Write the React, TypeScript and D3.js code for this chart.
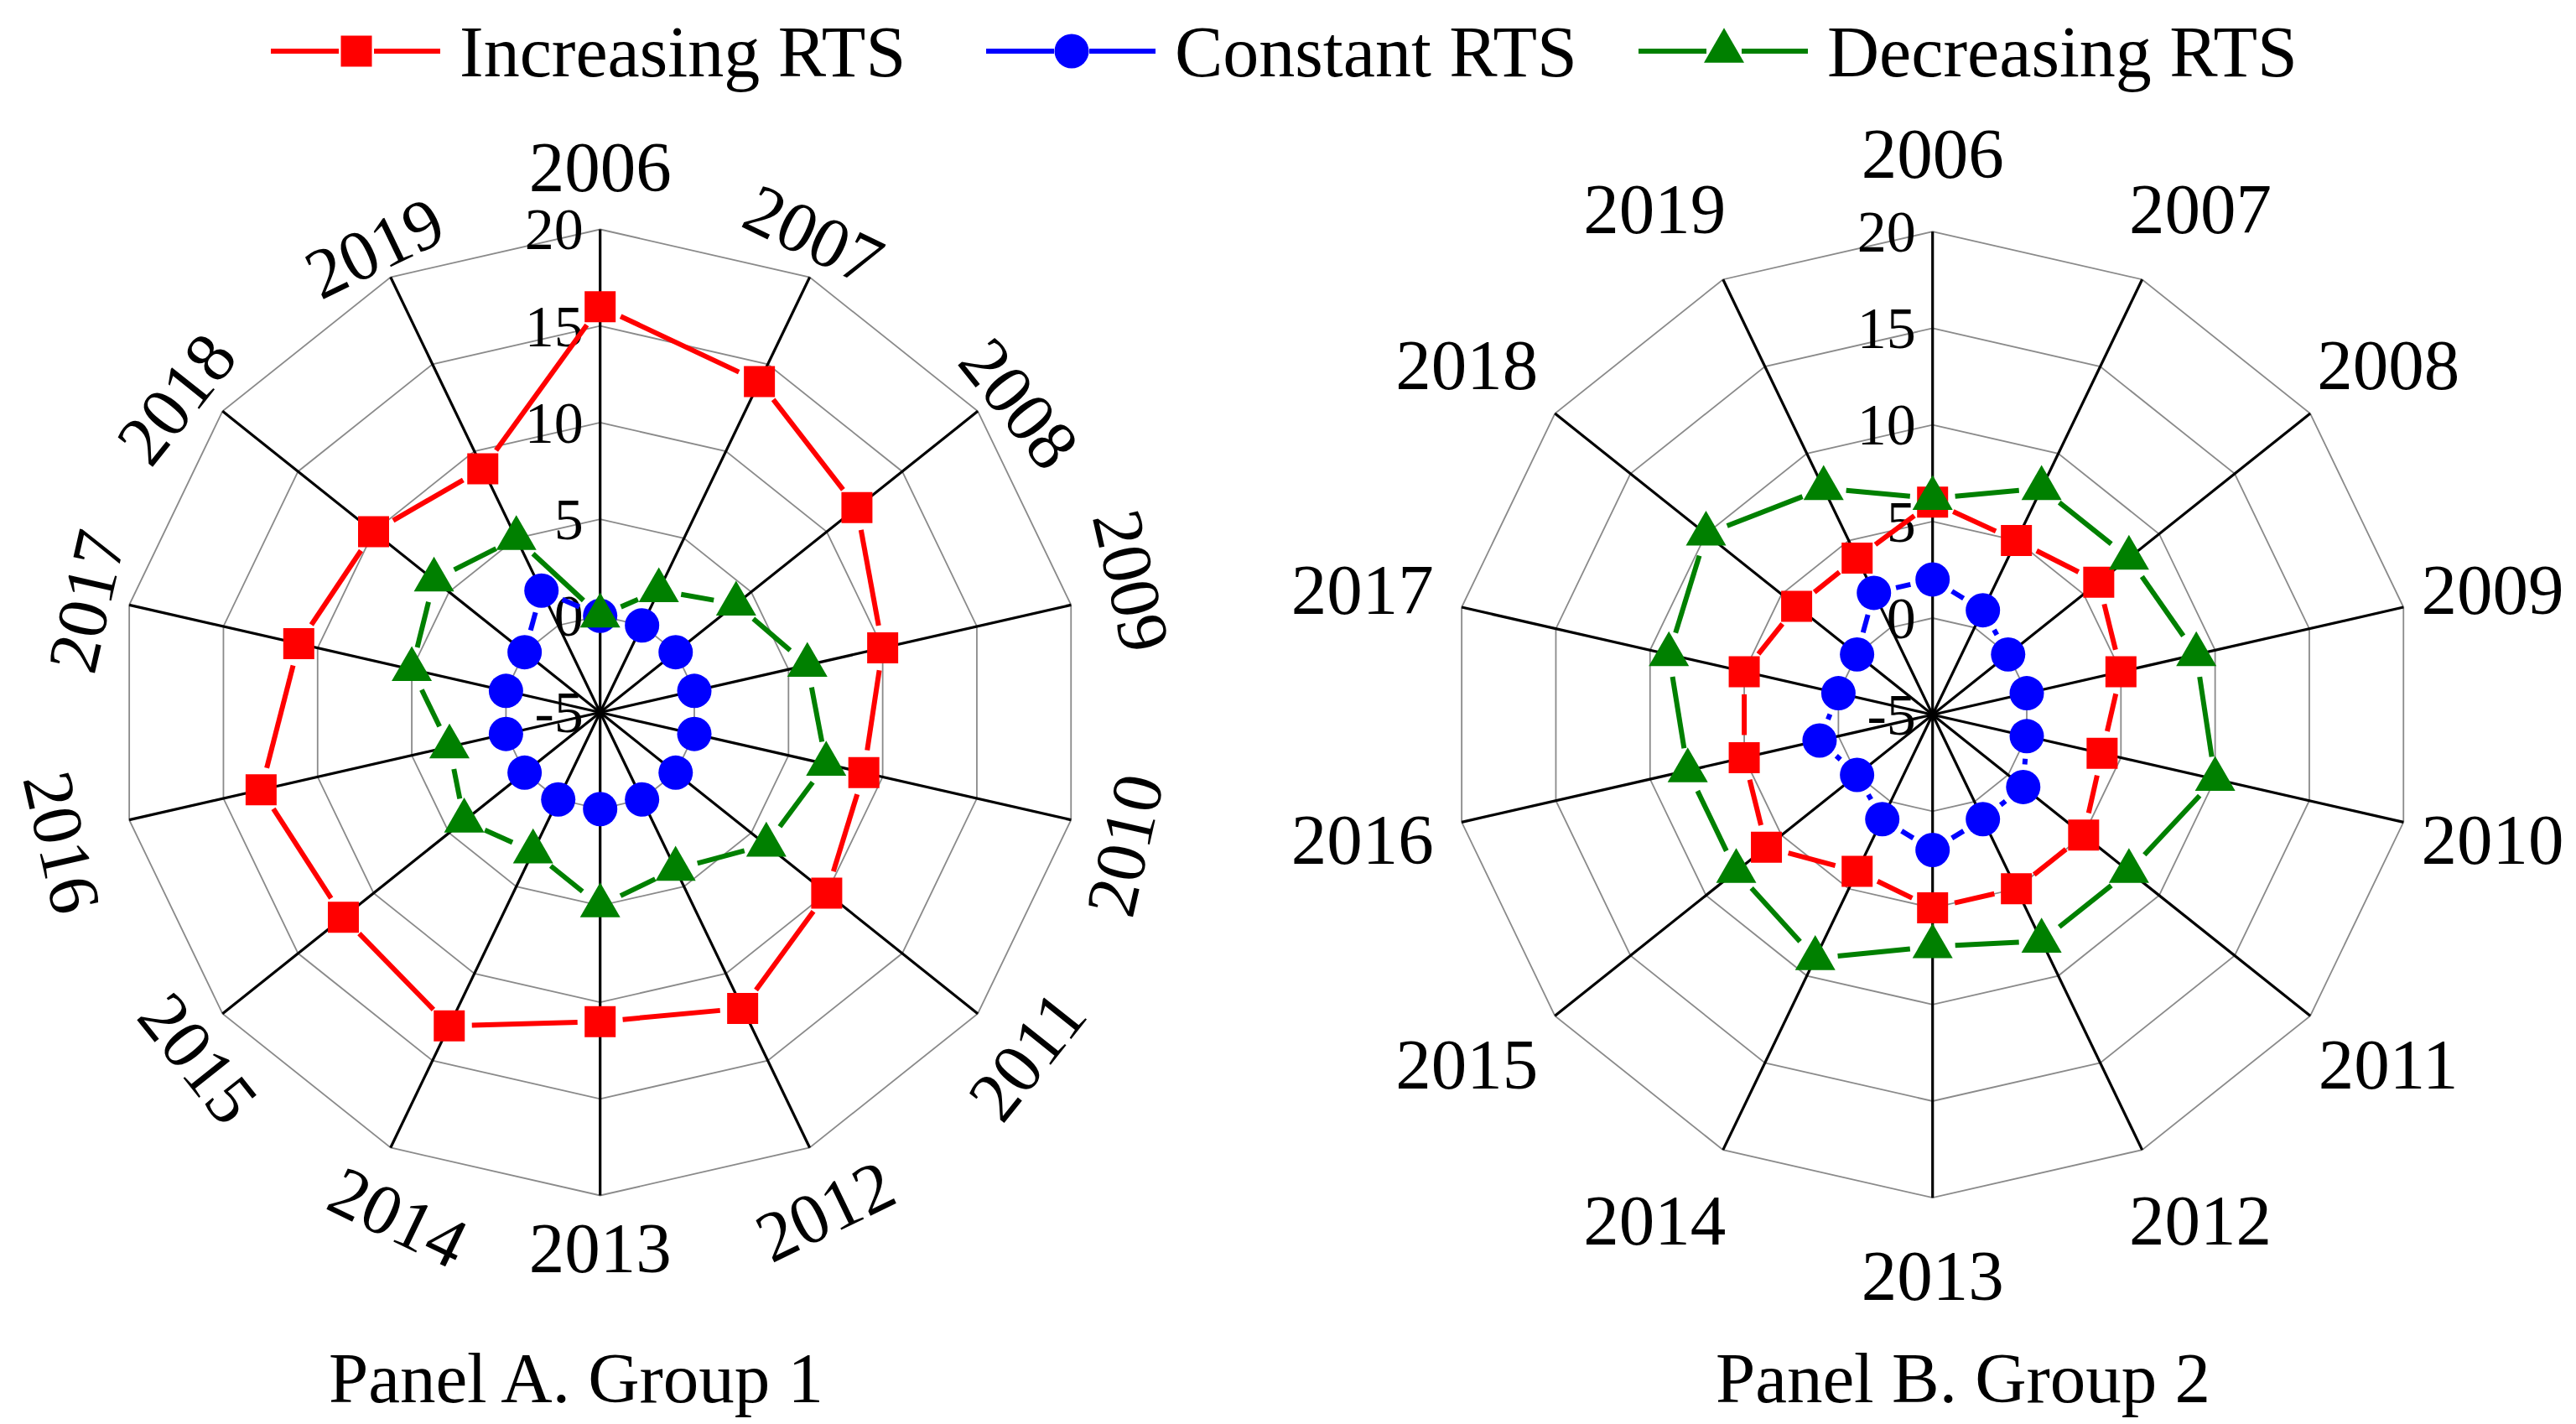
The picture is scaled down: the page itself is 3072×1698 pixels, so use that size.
import * as d3 from "d3";

const years = ["2006", "2007", "2008", "2009", "2010", "2011", "2012", "2013", "2014", "2015", "2016", "2017", "2018", "2019"];
const radialTicks = [-5, 0, 5, 10, 15, 20];

// Panel A. Group 1
const g1Increasing = [16, 14, 12, 10, 9, 10, 12, 11, 13, 12, 13, 11, 10, 9];
const g1Constant = [0, 0, 0, 0, 0, 0, 0, 0, 0, 0, 0, 0, 0, 2];
const g1Decreasing = [0, 2, 4, 6, 7, 6, 4, 5, 3, 4, 3, 5, 6, 5];

// Panel B. Group 2
const g2Increasing = [6, 5, 6, 5, 4, 5, 5, 5, 4, 6, 5, 5, 4, 4];
const g2Constant = [2, 1, 0, 0, 0, 1, 1, 2, 1, 0, 1, 0, 0, 2];
const g2Decreasing = [6.2, 8, 8, 9, 10, 8, 8, 7, 9, 8, 8, 9, 10, 8];

const seriesNames = ["Increasing RTS", "Constant RTS", "Decreasing RTS"];
const seriesColors = ["#ff0000", "#0000ff", "#008000"];
const symbolTypes = [d3.symbolSquare, d3.symbolCircle, d3.symbolTriangle];
const symbolSizes = [1369, 1320, 998];

// where the rotated year labels of panel A sit (angle in degrees, distance from centre)
const labelAngleA = [0, 24.1, 53.6, 76.1, 104.2, 128.8, 155.7, 180, 201.8, 229.3, 256.4, 282.2, 306.5, 334.1];
const labelRadiusA = [650, 624, 621, 653, 645, 653, 652, 639, 648, 632, 660, 627, 629, 616];

const W = 3072;
const H = 1698;
const FONT = "'Liberation Serif', 'Times New Roman', serif";
const TRIM = 27;

const rScale = d3.scaleLinear().domain([-5, 20]).range([0, 576]);
const aScale = d3.scaleLinear().domain([0, years.length]).range([0, 2 * Math.PI]);

function polar(cx: number, cy: number, i: number, r: number): [number, number] {
  const a = aScale(i);
  return [cx + r * Math.sin(a), cy - r * Math.cos(a)];
}

function markerPath(k: number) {
  return d3.symbol().type(symbolTypes[k]).size(symbolSizes[k])() ?? "";
}

function Series({ cx, cy, values, k }: { cx: number; cy: number; values: number[]; k: number }) {
  const pts = values.map((v, i) => polar(cx, cy, i, rScale(v)));
  const segs = pts.map((p, i) => {
    const q = pts[(i + 1) % pts.length];
    const dx = q[0] - p[0];
    const dy = q[1] - p[1];
    const L = Math.hypot(dx, dy);
    if (L <= 2 * TRIM) return null;
    const ux = dx / L;
    const uy = dy / L;
    return (
      <line
        key={i}
        x1={p[0] + ux * TRIM}
        y1={p[1] + uy * TRIM}
        x2={q[0] - ux * TRIM}
        y2={q[1] - uy * TRIM}
        stroke={seriesColors[k]}
        strokeWidth={6}
      />
    );
  });
  const d = markerPath(k);
  return (
    <g>
      {segs}
      {pts.map((p, i) => (
        <path key={i} d={d} transform={`translate(${p[0]},${p[1]})`} fill={seriesColors[k]} />
      ))}
    </g>
  );
}

function Radar({
  cx,
  cy,
  data,
  rotated,
  title,
  titleX,
}: {
  cx: number;
  cy: number;
  data: number[][];
  rotated: boolean;
  title: string;
  titleX: number;
}) {
  const ringPath = (v: number) =>
    d3.line()(years.map((_, i) => polar(cx, cy, i, rScale(v)))) + "Z";
  const rMax = rScale(20);
  return (
    <g>
      {radialTicks.filter((t) => t > -5).map((t) => (
        <path key={t} d={ringPath(t)} fill="none" stroke="#8a8a8a" strokeWidth={1.8} />
      ))}
      {years.map((_, i) => {
        const [x, y] = polar(cx, cy, i, rMax);
        return <line key={i} x1={cx} y1={cy} x2={x} y2={y} stroke="#000" strokeWidth={3.2} />;
      })}
      {radialTicks.map((t) => (
        <text
          key={t}
          x={cx - 20}
          y={cy - rScale(t)}
          dy="0.34em"
          textAnchor="end"
          fontSize={70}
          fontFamily={FONT}
          fill="#000"
        >
          {t}
        </text>
      ))}
      {data.map((vals, k) => (
        <Series key={k} cx={cx} cy={cy} values={vals} k={k} />
      ))}
      {years.map((yr, i) => {
        const deg = (aScale(i) * 180) / Math.PI;
        if (rotated) {
          const a = (labelAngleA[i] * Math.PI) / 180;
          const x = cx + labelRadiusA[i] * Math.sin(a);
          const y = cy - labelRadiusA[i] * Math.cos(a);
          const rot = deg > 90 && deg < 270 ? deg - 180 : deg;
          return (
            <text
              key={yr}
              transform={`translate(${x},${y}) rotate(${rot})`}
              dy="0.34em"
              textAnchor="middle"
              fontSize={85}
              fontFamily={FONT}
            >
              {yr}
            </text>
          );
        }
        const a = aScale(i);
        const s = Math.sin(a);
        const push = Math.abs(s) < 1e-6 ? 0 : s > 0 ? 40 : -52;
        const x = cx + 644 * s + push;
        const y = cy - 669 * Math.cos(a);
        return (
          <text key={yr} x={x} y={y} dy="0.34em" textAnchor="middle" fontSize={85} fontFamily={FONT}>
            {yr}
          </text>
        );
      })}
      <text x={titleX} y={1672} textAnchor="middle" fontSize={85} fontFamily={FONT}>
        {title}
      </text>
    </g>
  );
}

function Legend() {
  const xs = [425, 1278, 2056];
  const y = 61;
  return (
    <g>
      {seriesNames.map((name, k) => (
        <g key={name}>
          <line x1={xs[k] - 102} y1={y} x2={xs[k] - 21} y2={y} stroke={seriesColors[k]} strokeWidth={6} />
          <line x1={xs[k] + 21} y1={y} x2={xs[k] + 100} y2={y} stroke={seriesColors[k]} strokeWidth={6} />
          <path d={markerPath(k)} transform={`translate(${xs[k]},${y})`} fill={seriesColors[k]} />
          <text x={xs[k] + 123} y={91} fontSize={86} fontFamily={FONT}>
            {name}
          </text>
        </g>
      ))}
    </g>
  );
}

export default function App() {
  return (
    <svg
      width={W}
      height={H}
      viewBox={`0 0 ${W} ${H}`}
      style={{ position: "absolute", left: 0, top: 0, background: "#fff" }}
    >
      <rect width={W} height={H} fill="#fff" />
      <Legend />
      <Radar
        cx={715.7}
        cy={849.5}
        data={[g1Increasing, g1Constant, g1Decreasing]}
        rotated={true}
        title="Panel A. Group 1"
        titleX={687}
      />
      <Radar
        cx={2304.7}
        cy={852.2}
        data={[g2Increasing, g2Constant, g2Decreasing]}
        rotated={false}
        title="Panel B. Group 2"
        titleX={2341}
      />
    </svg>
  );
}
